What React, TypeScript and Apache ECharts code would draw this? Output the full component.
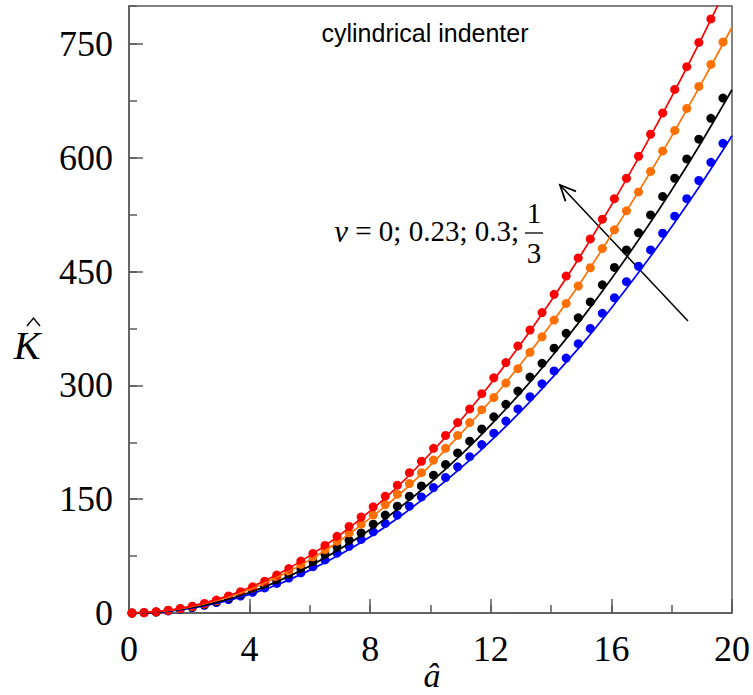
import React, { useEffect, useRef } from 'react';
import * as echarts from 'echarts';

// x positions of the plotted markers (â)
const dotA = [0.1, 0.5, 0.9, 1.3, 1.7, 2.1, 2.5, 2.9, 3.3, 3.7, 4.1, 4.5, 4.9, 5.3, 5.7, 6.1, 6.5, 6.9, 7.3, 7.7,
  8.1, 8.5, 8.9, 9.3, 9.7, 10.1, 10.5, 10.9, 11.3, 11.7, 12.1, 12.5, 12.9, 13.3, 13.7, 14.1, 14.5, 14.9, 15.3, 15.7,
  16.1, 16.5, 16.9, 17.3, 17.7, 18.1, 18.5, 18.9, 19.3, 19.7];

// marker values K̂ for ν = 0 (red), 0.23 (orange), 0.3 (black), 1/3 (blue)
const redDots = [0, 0.5, 1.5, 3.6, 6, 9, 12.5, 17, 22.5, 28, 34.5, 42, 50, 58.5, 68.5, 78.5, 89, 101, 114, 126.5,
  140, 154, 168.5, 185, 200, 217, 234, 251, 269, 289, 310, 330, 352, 373, 396, 420, 444, 468, 493, 519,
  546, 573, 602, 631, 659, 690, 720, 752, 783];
const orangeDots = [0, 0.5, 1.5, 3.4, 5.6, 8.5, 12, 16, 21, 26.5, 32.5, 39.5, 47, 55, 64, 74, 83.5, 94.6, 105.5, 117,
  129, 143, 156.6, 170.7, 185, 201.5, 217, 234, 251, 268, 284, 303, 322, 343.5, 364, 386, 408, 431, 455, 480.5,
  505, 530, 555, 582, 609, 636, 665, 694, 723, 752.5];
const blackDots = [0, 0.4, 1.4, 3.1, 5.2, 7.9, 11, 15, 19.5, 24.5, 30, 36.5, 43.5, 51, 59, 68, 77.5, 87, 96, 105.5,
  117, 129, 140.8, 154, 167.5, 181.7, 195.8, 211, 226.5, 242.5, 258.6, 275, 292.5, 311, 329, 349, 368.6, 389, 410, 432.5,
  455.5, 478.5, 501, 524.7, 549, 573, 598.5, 624.5, 652, 678.6];
const blueDots = [0, 0.4, 1.3, 2.8, 4.8, 7.2, 10.1, 13.7, 17.8, 22.3, 27.3, 33, 39, 46, 53, 61, 70, 79, 88, 97,
  107, 118, 129, 140.8, 153, 165.4, 178.6, 192.6, 206, 222, 237, 253, 269, 285, 302, 319, 336, 355, 375, 395,
  415.5, 436.7, 457, 478.5, 500.5, 523, 546, 570, 594, 619];

// solid curves
const lineA = [0, 1, 2, 3, 4, 5, 6, 7, 8, 9, 10, 11, 12, 13, 14, 15, 16, 17, 18, 19, 20];
const redLine = [0, 2.1, 8.4, 18.9, 33.6, 52.5, 75.6, 103, 134.5, 170, 210.5, 254, 302.5, 355, 411.5, 472.5, 537.5, 607, 680.5, 758, 840];
const orangeLine = [0, 1.95, 7.8, 17.5, 31, 48.7, 70, 95.5, 125, 157.5, 195, 236, 280, 328.5, 381, 437, 498.5, 562, 628.5, 699, 772];
const blackLine = [0, 1.5, 6.6, 15, 27, 43, 62, 84.3, 110, 139.5, 172, 208, 248, 290.7, 337, 387, 440.5, 497.5, 557.5, 621.5, 689.6];
const blueLine = [0, 1.1, 5.9, 13.6, 24.5, 38.6, 56.5, 77, 100.5, 127.5, 158, 191, 227, 266, 308.5, 353, 402, 454, 509, 567, 629];

const xTicks = [0, 4, 8, 12, 16, 20];
const yTicks = [0, 150, 300, 450, 600, 750];

const RED = '#ff0000';
const ORANGE = '#ff7000';
const BLACK = '#000000';
const BLUE = '#0000ff';
const AXIS = '#5a5a5a';

export default function App() {
  const ref = useRef<HTMLDivElement>(null);
  useEffect(() => {
    const chart = echarts.init(ref.current!, null, { renderer: 'svg' });
    const pair = (xs: number[], ys: number[]) => ys.map((y, i) => [xs[i], y]);
    const lineS = (color: string, ys: number[]) => ({
      type: 'line', data: pair(lineA, ys), smooth: 0.35, symbol: 'none', showSymbol: false,
      lineStyle: { color, width: 1.7 }, itemStyle: { color }, clip: true, silent: true,
    });
    const dotS = (color: string, ys: number[]) => ({
      type: 'scatter', data: pair(dotA, ys), symbol: 'circle', symbolSize: 9,
      itemStyle: { color, opacity: 1 }, clip: true, silent: true,
    });
    const serif = 'Liberation Serif';
    const txt = (x: number, y: number, text: string, size: number, opts: any = {}) => ({
      type: 'text', x, y, silent: true,
      style: {
        text, fill: '#000', fontSize: size, fontFamily: opts.family || serif,
        fontStyle: opts.italic ? 'italic' : 'normal',
        lineHeight: opts.lineHeight || size,
        align: opts.align || 'center', verticalAlign: 'middle',
        textAlign: opts.align || 'center', textVerticalAlign: 'middle',
        rich: opts.rich,
      },
    });
    chart.setOption({
      animation: false,
      backgroundColor: '#fff',
      grid: { left: 129, right: 18, top: 6, bottom: 82, show: true, borderColor: AXIS, borderWidth: 1.5, backgroundColor: 'transparent' },
      xAxis: [
        {
          type: 'value', min: 0, max: 20, interval: 4, position: 'bottom',
          axisLine: { show: true, lineStyle: { color: AXIS, width: 1.5 } },
          axisTick: { show: true, inside: true, length: 14, lineStyle: { color: AXIS, width: 1.5 } },
          axisLabel: {
            fontFamily: serif, fontSize: 36, color: '#000', margin: 18,
            formatter: (v: number) => (xTicks.includes(v) ? String(v) : ''),
          },
          splitLine: { show: false },
        },
        {
          type: 'value', min: 0, max: 20, interval: 2, position: 'bottom',
          axisLine: { show: false },
          axisTick: { show: true, inside: true, length: 8, lineStyle: { color: AXIS, width: 1.5 } },
          axisLabel: { show: false }, splitLine: { show: false },
        },
      ],
      yAxis: [
        {
          type: 'value', min: 0, max: 800, interval: 150, position: 'left',
          axisLine: { show: true, lineStyle: { color: AXIS, width: 1.5 } },
          axisTick: { show: true, inside: true, length: 14, lineStyle: { color: AXIS, width: 1.5 } },
          axisLabel: {
            fontFamily: serif, fontSize: 36, color: '#000', margin: 16, showMaxLabel: false,
            formatter: (v: number) => (yTicks.includes(v) ? String(v) : ''),
          },
          splitLine: { show: false },
        },
        {
          type: 'value', min: 0, max: 800, interval: 75, position: 'left',
          axisLine: { show: false },
          axisTick: { show: true, inside: true, length: 8, lineStyle: { color: AXIS, width: 1.5 } },
          axisLabel: { show: false }, splitLine: { show: false },
        },
      ],
      series: [
        dotS(BLUE, blueDots), lineS(BLUE, blueLine),
        dotS(BLACK, blackDots), lineS(BLACK, blackLine),
        dotS(ORANGE, orangeDots), lineS(ORANGE, orangeLine),
        dotS(RED, redDots), lineS(RED, redLine),
      ],
      graphic: [
        txt(425, 33, 'cylindrical indenter', 25, { family: 'Liberation Sans' }),
        txt(519, 231, '{i|ν} = 0; 0.23; 0.3;', 29, {
          align: 'right',
          rich: { i: { fontStyle: 'italic', fontFamily: serif, fontSize: 31, fill: '#000' } },
        }),
        txt(534, 213, '1', 29),
        { type: 'line', silent: true, shape: { x1: 525, y1: 233, x2: 543, y2: 233 }, style: { stroke: '#000', lineWidth: 1.3 } },
        txt(534, 253, '3', 29),
        { type: 'line', silent: true, shape: { x1: 688, y1: 321, x2: 560, y2: 185 }, style: { stroke: '#000', lineWidth: 1.5 } },
        { type: 'polyline', silent: true, shape: { points: [[576, 191.3], [560, 185], [565.5, 201.3]] }, style: { stroke: '#000', lineWidth: 1.8, fill: null } },
        txt(27, 345, 'K', 40, { italic: true }),
        { type: 'polyline', silent: true, shape: { points: [[27, 326], [33.5, 318], [40, 326]] }, style: { stroke: '#000', lineWidth: 1.4, fill: null } },
        txt(432, 675, 'â', 34, { italic: true }),
      ],
    });
    return () => chart.dispose();
  }, []);
  return <div ref={ref} style={{ position: 'fixed', left: 0, top: 0, width: 753, height: 695 }} />;
}
